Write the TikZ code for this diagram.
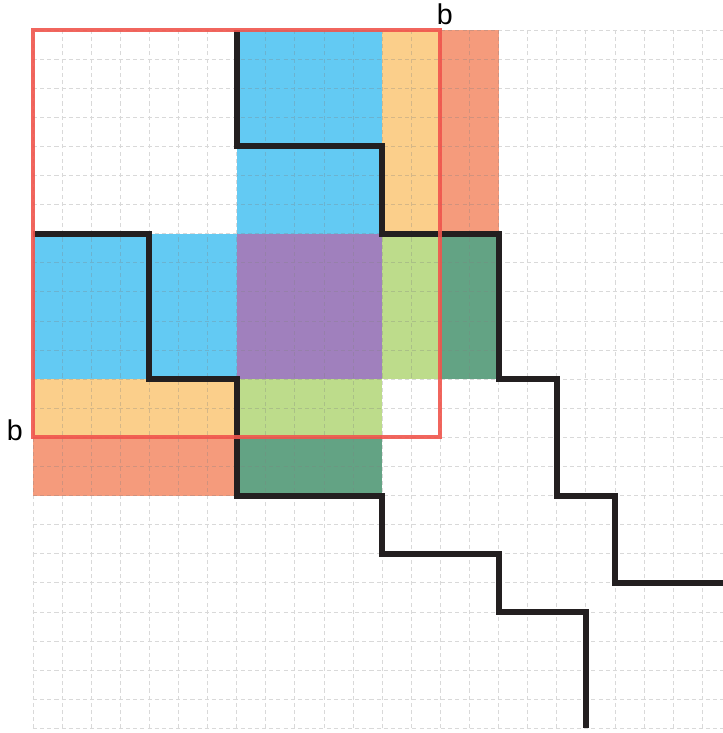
\documentclass[tikz,border=0pt]{standalone}
\usepackage{fontspec}
\setmainfont{Liberation Sans}
\definecolor{tileblue}{HTML}{63CAF3}
\definecolor{tileorange}{HTML}{FBCF8B}
\definecolor{tilesalmon}{HTML}{F59B7C}
\definecolor{tilepurple}{HTML}{A080BD}
\definecolor{tilelgreen}{HTML}{BDDC8B}
\definecolor{tiledgreen}{HTML}{63A384}
\definecolor{sqred}{HTML}{F0554D}
\definecolor{stairblack}{HTML}{231F20}
\tikzset{
  gridline/.style={gray, opacity=0.3, line width=0.4pt, dash pattern=on 2pt off 1.5pt},
  stair/.style={stairblack, line width=2.9pt, line join=miter},
  bsquare/.style={sqred, opacity=0.9, line width=2pt},
  blabel/.style={font=\fontsize{14}{16}\selectfont, inner sep=0pt}
}

\begin{document}
\begin{tikzpicture}[x=0.5cm,y=-0.5cm]
        \useasboundingbox (-1.134,-1.031) rectangle (23.71,24.16);
        % coloured tiles
        \fill[tileblue] (7,0) rectangle (12,7);
        \fill[tileblue] (0,7) rectangle (7,12);
        \fill[tileorange] (12,0) rectangle (14,7);
        \fill[tileorange] (0,12) rectangle (7,14);
        \fill[tilesalmon] (14,0) rectangle (16,7);
        \fill[tilesalmon] (0,14) rectangle (7,16);
        \fill[tilepurple] (7,7) rectangle (12,12);
        \fill[tilelgreen] (12,7) rectangle (14,12);
        \fill[tilelgreen] (7,12) rectangle (12,14);
        \fill[tiledgreen] (14,7) rectangle (16,12);
        \fill[tiledgreen] (7,14) rectangle (12,16);
        % grid
        \draw[gridline, step=0.5cm] (0,0) grid (23.71,24);
        % staircases
        \draw[stair] (7,0) |- (12,4) |- (16,7) |- (18,12) |- (20,16) |- (23.8,19);
        \draw[stair] (0,7) -| (4,12) -| (7,16) -| (12,18) -| (16,20) -| (19,24);
        % square of side b
        \draw[bsquare] (0,0) rectangle (14,14);
        \node[blabel] (btop) at (14.15,-0.55) {b};
        \node[blabel] (bleft) at (-0.62,13.75) {b};
    \end{tikzpicture}
\end{document}
